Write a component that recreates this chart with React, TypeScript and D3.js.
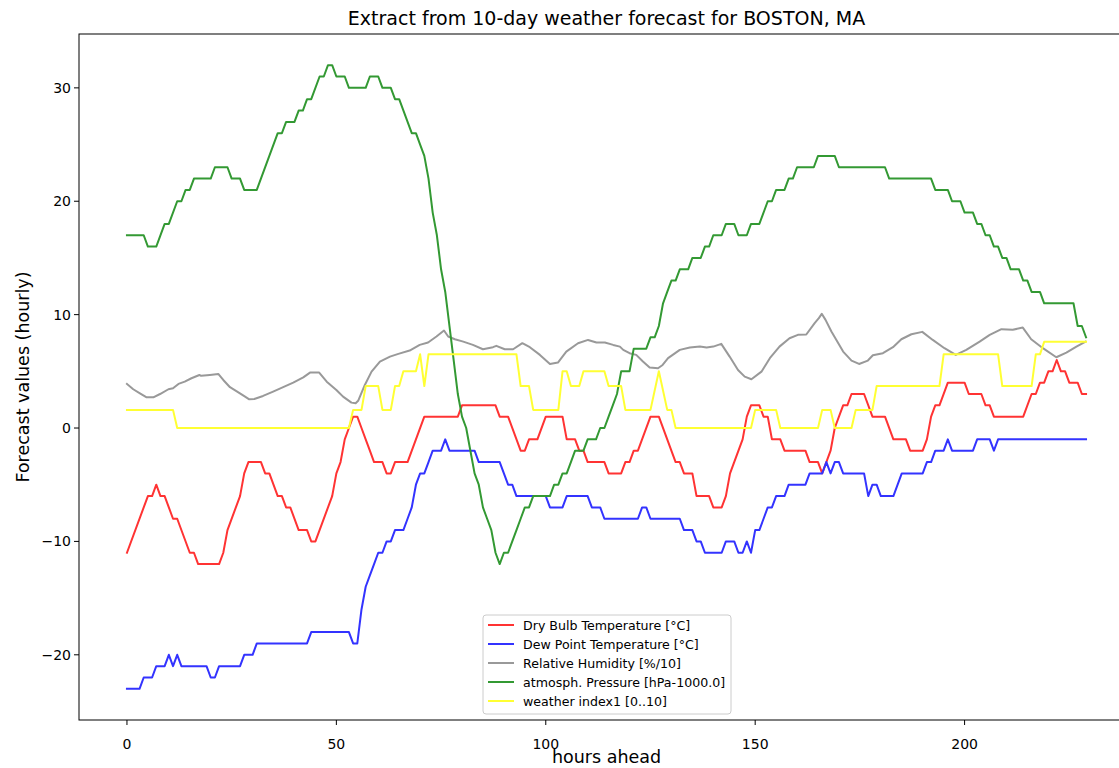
import React from "react";
import * as d3 from "d3";

type Pt = [number, number];

const title = "Extract from 10-day weather forecast for BOSTON, MA";
const xLabel = "hours ahead";
const yLabel = "Forecast values (hourly)";
const xTicks = [0, 50, 100, 150, 200];
const yTicks = [-20, -10, 0, 10, 20, 30];

const dryBulb: Pt[] = [[0,-11],[5,-6],[6,-6],[7,-5],[8,-6],[9,-6],[11,-8],[12,-8],[15,-11],[16,-11],[17,-12],[22,-12],[23,-11],[24,-9],[27,-6],[28,-4],[29,-3],[32,-3],[33,-4],[34,-4],[36,-6],[37,-6],[38,-7],[39,-7],[41,-9],[43,-9],[44,-10],[45,-10],[49,-6],[50,-4],[51,-3],[52,-1],[53,0],[54,1],[55,1],[56,0],[57,-1],[58,-2],[59,-3],[61,-3],[62,-4],[63,-4],[64,-3],[67,-3],[71,1],[79,1],[80,2],[88,2],[89,1],[91,1],[94,-2],[95,-2],[96,-1],[98,-1],[100,1],[104,1],[105,-1],[107,-1],[108,-2],[109,-2],[110,-3],[114,-3],[115,-4],[118,-4],[119,-3],[120,-3],[121,-2],[122,-2],[125,1],[127,1],[131,-3],[132,-3],[133,-4],[135,-4],[136,-6],[139,-6],[140,-7],[142,-7],[143,-6],[144,-4],[147,-1],[148,1],[149,2],[151,2],[152,1],[153,1],[154,-1],[156,-1],[157,-2],[162,-2],[163,-3],[165,-3],[166,-4],[168,-2],[169,0],[170,1],[171,2],[172,2],[173,3],[176,3],[178,1],[181,1],[183,-1],[186,-1],[187,-2],[190,-2],[191,-1],[192,1],[193,2],[194,2],[196,4],[200,4],[201,3],[204,3],[205,2],[206,2],[207,1],[214,1],[216,3],[217,3],[218,4],[219,4],[220,5],[221,5],[222,6],[223,5],[224,5],[225,4],[227,4],[228,3],[229,3]];

const dewPoint: Pt[] = [[0,-23],[3,-23],[4,-22],[6,-22],[7,-21],[9,-21],[10,-20],[11,-21],[12,-20],[13,-21],[19,-21],[20,-22],[21,-22],[22,-21],[27,-21],[28,-20],[30,-20],[31,-19],[43,-19],[44,-18],[53,-18],[54,-19],[55,-19],[56,-16],[57,-14],[58,-13],[59,-12],[60,-11],[61,-11],[62,-10],[63,-10],[64,-9],[66,-9],[67,-8],[68,-7],[69,-5],[70,-4],[71,-4],[72,-3],[73,-2],[75,-2],[76,-1],[77,-2],[83,-2],[84,-3],[89,-3],[90,-4],[91,-5],[92,-5],[93,-6],[100,-6],[101,-7],[104,-7],[105,-6],[110,-6],[111,-7],[113,-7],[114,-8],[122,-8],[123,-7],[124,-7],[125,-8],[132,-8],[133,-9],[135,-9],[136,-10],[137,-10],[138,-11],[142,-11],[143,-10],[145,-10],[146,-11],[147,-11],[148,-10],[149,-11],[150,-9],[151,-9],[152,-8],[153,-7],[154,-7],[155,-6],[157,-6],[158,-5],[162,-5],[163,-4],[166,-4],[167,-3],[168,-4],[169,-3],[170,-3],[171,-4],[176,-4],[177,-6],[178,-5],[179,-5],[180,-6],[183,-6],[185,-4],[190,-4],[191,-3],[192,-3],[193,-2],[195,-2],[196,-1],[197,-2],[202,-2],[203,-1],[206,-1],[207,-2],[208,-1],[229,-1]];

const humidity: Pt[] = [[0,3.89],[1.5,3.42],[3.1,3.06],[4.7,2.71],[6.3,2.71],[7.9,3.0],[9.9,3.42],[11,3.5],[12.3,3.89],[13.8,4.09],[15.4,4.39],[17.3,4.68],[17.7,4.6],[19.8,4.68],[21.8,4.77],[23,4.24],[24.6,3.6],[26.6,3.15],[28.2,2.77],[29.2,2.53],[30.4,2.56],[32.5,2.83],[34.9,3.21],[37.3,3.6],[39.7,4.0],[42.1,4.47],[43.7,4.89],[45.9,4.89],[47.7,4.09],[50,3.36],[51.6,2.77],[53.6,2.24],[54.6,2.18],[55.2,2.4],[56.8,3.8],[58.4,4.97],[60.4,5.86],[62.8,6.3],[64.8,6.54],[67.5,6.83],[69.9,7.33],[71.9,7.54],[73.9,8.07],[75.7,8.6],[76.7,8.07],[78.3,7.83],[80.3,7.62],[82.6,7.33],[85,6.95],[87.4,7.13],[88.2,7.25],[90.2,6.95],[92.2,6.95],[94.4,7.48],[96.2,7.13],[98.6,6.45],[101,5.65],[102.9,5.77],[104.9,6.74],[107.7,7.48],[110.1,7.77],[112.1,7.54],[114.1,7.54],[116.1,7.33],[117.7,7.18],[118.5,6.89],[120,6.6],[121.6,6.45],[123.2,5.86],[124.8,5.33],[126.8,5.27],[127.9,5.56],[129.2,6.16],[132,6.89],[134.4,7.1],[136.8,7.18],[138.4,7.1],[140,7.18],[141.9,7.42],[143.9,6.3],[145.9,5.12],[147.5,4.53],[149.1,4.3],[151.5,4.97],[153.5,6.16],[155.8,7.18],[158.2,7.92],[160.2,8.22],[162.2,8.25],[164.2,9.25],[165.2,9.69],[165.9,10.07],[166.8,9.54],[168.2,8.51],[171,6.74],[173,5.95],[174.8,5.65],[176.9,5.95],[178.1,6.42],[180.5,6.6],[182.9,7.13],[184.9,7.83],[187.3,8.27],[189.9,8.48],[192.4,7.77],[195.2,7.04],[197.9,6.45],[200.4,6.89],[203.6,7.62],[206,8.22],[208.8,8.72],[211.5,8.66],[213.9,8.86],[215.9,7.83],[218.7,7.04],[221.9,6.24],[224.3,6.65],[226.7,7.18],[228.9,7.62]];

const pressure: Pt[] = [[0,17],[4,17],[5,16],[7,16],[9,18],[10,18],[12,20],[13,20],[14,21],[15,21],[16,22],[20,22],[21,23],[24,23],[25,22],[27,22],[28,21],[31,21],[36,26],[37,26],[38,27],[40,27],[41,28],[42,28],[43,29],[44,29],[46,31],[47,31],[48,32],[49,32],[50,31],[52,31],[53,30],[57,30],[58,31],[60,31],[61,30],[63,30],[64,29],[65,29],[68,26],[69,26],[70,25],[71,24],[72,22],[73,19],[74,17],[75,14],[76,12],[77,9],[78,6],[79,3],[80,1],[81,0],[82,-2],[83,-4],[84,-5],[85,-7],[86,-8],[87,-9],[88,-11],[89,-12],[90,-11],[91,-11],[92,-10],[93,-9],[94,-8],[95,-7],[96,-7],[97,-6],[101,-6],[102,-5],[103,-5],[104,-4],[105,-4],[106,-3],[107,-2],[109,-2],[110,-1],[112,-1],[113,0],[114,0],[115,1],[116,2],[117,3],[118,5],[120,5],[121,7],[124,7],[125,8],[126,8],[127,9],[128,11],[129,12],[130,13],[131,13],[132,14],[134,14],[135,15],[137,15],[138,16],[139,16],[140,17],[142,17],[143,18],[145,18],[146,17],[148,17],[149,18],[151,18],[153,20],[154,20],[155,21],[157,21],[158,22],[159,22],[160,23],[164,23],[165,24],[169,24],[170,23],[181,23],[182,22],[192,22],[193,21],[196,21],[197,20],[199,20],[200,19],[202,19],[203,18],[204,18],[205,17],[206,17],[207,16],[208,16],[209,15],[210,15],[211,14],[213,14],[214,13],[215,13],[216,12],[218,12],[219,11],[226,11],[227,9],[228,9],[229,8]];

const weatherIndex: Pt[] = [[0,1.6],[11,1.6],[12,0],[53,0],[54,1.6],[56,1.6],[57,3.7],[60,3.7],[61,1.6],[63,1.6],[64,3.7],[65,3.7],[66,5.0],[69,5.0],[70,6.5],[71,3.7],[72,6.5],[93,6.5],[94,3.7],[96,3.7],[97,1.6],[103,1.6],[104,5.0],[105,5.0],[106,3.7],[108,3.7],[109,5.0],[114,5.0],[115,3.7],[118,3.7],[119,1.6],[125,1.6],[127,5.0],[129,1.6],[130,1.6],[131,0],[149,0],[150,1.6],[155,1.6],[156,0],[165,0],[166,1.6],[168,1.6],[169,0],[173,0],[174,1.6],[178,1.6],[179,3.7],[194,3.7],[195,6.5],[208,6.5],[209,3.7],[216,3.7],[217,6.5],[218,6.5],[219,7.6],[229,7.6]];

const seriesNames = [
  "Dry Bulb Temperature [°C]",
  "Dew Point Temperature [°C]",
  "Relative Humidity [%/10]",
  "atmosph. Pressure [hPa-1000.0]",
  "weather index1 [0..10]",
];
const seriesColors = ["#ff3333", "#3333ff", "#999999", "#339933", "#ffff33"];
const seriesData = [dryBulb, dewPoint, humidity, pressure, weatherIndex];

const W = 1119;
const H = 768;
const M = { left: 79, right: 1134, top: 34, bottom: 720 };
const FONT = "DejaVu Sans, sans-serif";

export default function App() {
  const x = d3.scaleLinear().domain([-11.45, 240.45]).range([M.left, M.right]);
  const y = d3.scaleLinear().domain([-25.75, 34.75]).range([M.bottom, M.top]);
  const line = d3
    .line<Pt>()
    .x((d) => x(d[0]))
    .y((d) => y(d[1]));
  const fmt = (v: number) => (v < 0 ? "\u2212" + Math.abs(v) : String(v));
  const legX = 483;
  const legY = 615;
  const legW = 248;
  const legH = 99;
  const rowH = 19;

  return (
    <svg
      width={W}
      height={H}
      style={{ position: "absolute", left: 0, top: 0, background: "#fff" }}
      fontFamily={FONT}
    >
      <rect x={0} y={0} width={W} height={H} fill="#fff" />
      <defs>
        <clipPath id="plot">
          <rect x={M.left} y={M.top} width={M.right - M.left} height={M.bottom - M.top} />
        </clipPath>
      </defs>
      <g clipPath="url(#plot)">
        {seriesData.map((d, i) => (
          <path
            key={i}
            d={line(d) ?? ""}
            fill="none"
            stroke={seriesColors[i]}
            strokeWidth={2}
            strokeLinejoin="round"
            strokeLinecap="square"
          />
        ))}
      </g>
      <rect
        x={M.left}
        y={M.top}
        width={M.right - M.left}
        height={M.bottom - M.top}
        fill="none"
        stroke="#000"
        strokeWidth={1}
      />
      {xTicks.map((t) => (
        <g key={"x" + t}>
          <line x1={x(t)} x2={x(t)} y1={M.bottom} y2={M.bottom + 5} stroke="#000" />
          <text x={x(t)} y={749} fontSize={14} textAnchor="middle" fill="#000">
            {fmt(t)}
          </text>
        </g>
      ))}
      {yTicks.map((t) => (
        <g key={"y" + t}>
          <line x1={M.left - 5} x2={M.left} y1={y(t)} y2={y(t)} stroke="#000" />
          <text x={M.left - 8} y={y(t) + 5} fontSize={14} textAnchor="end" fill="#000">
            {fmt(t)}
          </text>
        </g>
      ))}
      <text x={(M.left + M.right) / 2} y={763} fontSize={17.5} textAnchor="middle" fill="#000">
        {xLabel}
      </text>
      <text
        transform={`translate(29, ${(M.top + M.bottom) / 2}) rotate(-90)`}
        fontSize={17.5}
        textAnchor="middle"
        fill="#000"
      >
        {yLabel}
      </text>
      <text x={(M.left + M.right) / 2} y={25} fontSize={19} textAnchor="middle" fill="#000">
        {title}
      </text>
      <g>
        <rect
          x={legX}
          y={legY}
          width={legW}
          height={legH}
          rx={3}
          fill="#fff"
          fillOpacity={0.8}
          stroke="#cccccc"
        />
        {seriesNames.map((n, i) => (
          <g key={n}>
            <line
              x1={legX + 5}
              x2={legX + 31}
              y1={legY + 10 + i * rowH}
              y2={legY + 10 + i * rowH}
              stroke={seriesColors[i]}
              strokeWidth={2}
            />
            <text x={legX + 40} y={legY + 14.5 + i * rowH} fontSize={12.6} fill="#000">
              {n}
            </text>
          </g>
        ))}
      </g>
    </svg>
  );
}
